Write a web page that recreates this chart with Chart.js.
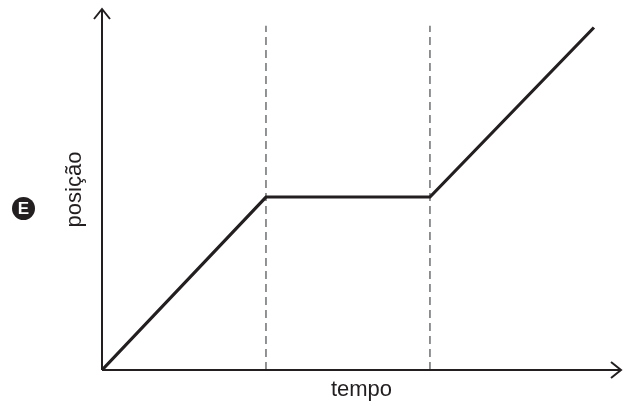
<!DOCTYPE html>
<html>
<head>
<meta charset="utf-8">
<script src="https://cdn.jsdelivr.net/npm/chart.js@4/dist/chart.umd.min.js"></script>
<style>
  html, body { margin: 0; padding: 0; background: #fff; }
  #grafico { display: block; }
</style>
</head>
<body>
<canvas id="grafico" width="635" height="406"></canvas>
<script>
// dados do gráfico (posição x tempo)
const tempo = [0, 1, 2, 3];
const posicao = [0, 1, 1, 1.98];
const instantesTracejados = [1, 2];
const alturaTracejado = 1.99;
const rotuloX = 'tempo';
const rotuloY = 'posição';
const letraAlternativa = 'E';

const corLinha = '#231f20';

// pontos da linha principal
const pontos = tempo.map((t, i) => ({ x: t, y: posicao[i] }));

// linhas verticais tracejadas
const tracejados = instantesTracejados.map(t => ({
    data: [{ x: t, y: 0 }, { x: t, y: alturaTracejado }],
    borderColor: '#58595b',
    borderWidth: 1.3,
    borderDash: [8, 5],
    pointRadius: 0,
    showLine: true,
    fill: false
}));

// eixos com setas + selo da alternativa
const eixosPlugin = {
    id: 'eixos',
    afterDraw(chart) {
        const { ctx, chartArea: a } = chart;
        ctx.save();
        ctx.strokeStyle = corLinha;
        ctx.lineWidth = 2;
        ctx.lineCap = 'butt';
        ctx.beginPath();
        ctx.moveTo(a.left, a.bottom);
        ctx.lineTo(a.left, a.top);
        ctx.moveTo(a.left, a.bottom);
        ctx.lineTo(a.right, a.bottom);
        ctx.stroke();

        // setas
        ctx.lineJoin = 'miter';
        ctx.beginPath();
        ctx.moveTo(a.left - 8, a.top + 10);
        ctx.lineTo(a.left, a.top);
        ctx.lineTo(a.left + 8, a.top + 10);
        ctx.moveTo(a.right - 10, a.bottom - 8);
        ctx.lineTo(a.right, a.bottom);
        ctx.lineTo(a.right - 10, a.bottom + 8);
        ctx.stroke();

        // selo "E"
        ctx.fillStyle = corLinha;
        ctx.beginPath();
        ctx.arc(23.5, 208.5, 11.5, 0, Math.PI * 2);
        ctx.fill();
        ctx.fillStyle = '#fff';
        ctx.font = 'bold 17px "Liberation Sans", Arial, sans-serif';
        ctx.textAlign = 'center';
        ctx.textBaseline = 'middle';
        ctx.fillText(letraAlternativa, 23.5, 209.5);
        ctx.restore();
    }
};

const config = {
    type: 'scatter',
    data: {
        datasets: [{
            data: pontos,
            borderColor: corLinha,
            borderWidth: 3.2,
            pointRadius: 0,
            showLine: true,
            fill: false,
            borderJoinStyle: 'miter'
        }, ...tracejados]
    },
    options: {
        responsive: false,
        animation: false,
        layout: {
            padding: { top: 9, right: 14, left: 0, bottom: 0 }
        },
        plugins: {
            legend: { display: false },
            tooltip: { enabled: false }
        },
        scales: {
            x: {
                type: 'linear',
                min: 0,
                max: 3.165,
                grid: { display: false },
                border: { display: false },
                ticks: { display: false },
                title: {
                    display: true,
                    text: rotuloX,
                    color: corLinha,
                    font: { family: '"Liberation Sans", Arial, sans-serif', size: 22 },
                    padding: { top: 0, bottom: 3 }
                },
                afterFit(s) { s.height = 36; }
            },
            y: {
                type: 'linear',
                min: 0,
                max: 2.087,
                grid: { display: false },
                border: { display: false },
                ticks: { display: false },
                title: {
                    display: true,
                    text: rotuloY,
                    color: corLinha,
                    font: { family: '"Liberation Sans", Arial, sans-serif', size: 22 },
                    padding: { top: 62, bottom: 0 }
                },
                afterFit(s) { s.width = 102; }
            }
        }
    },
    plugins: [eixosPlugin]
};

const grafico = new Chart(document.getElementById('grafico'), config);
</script>
</body>
</html>
